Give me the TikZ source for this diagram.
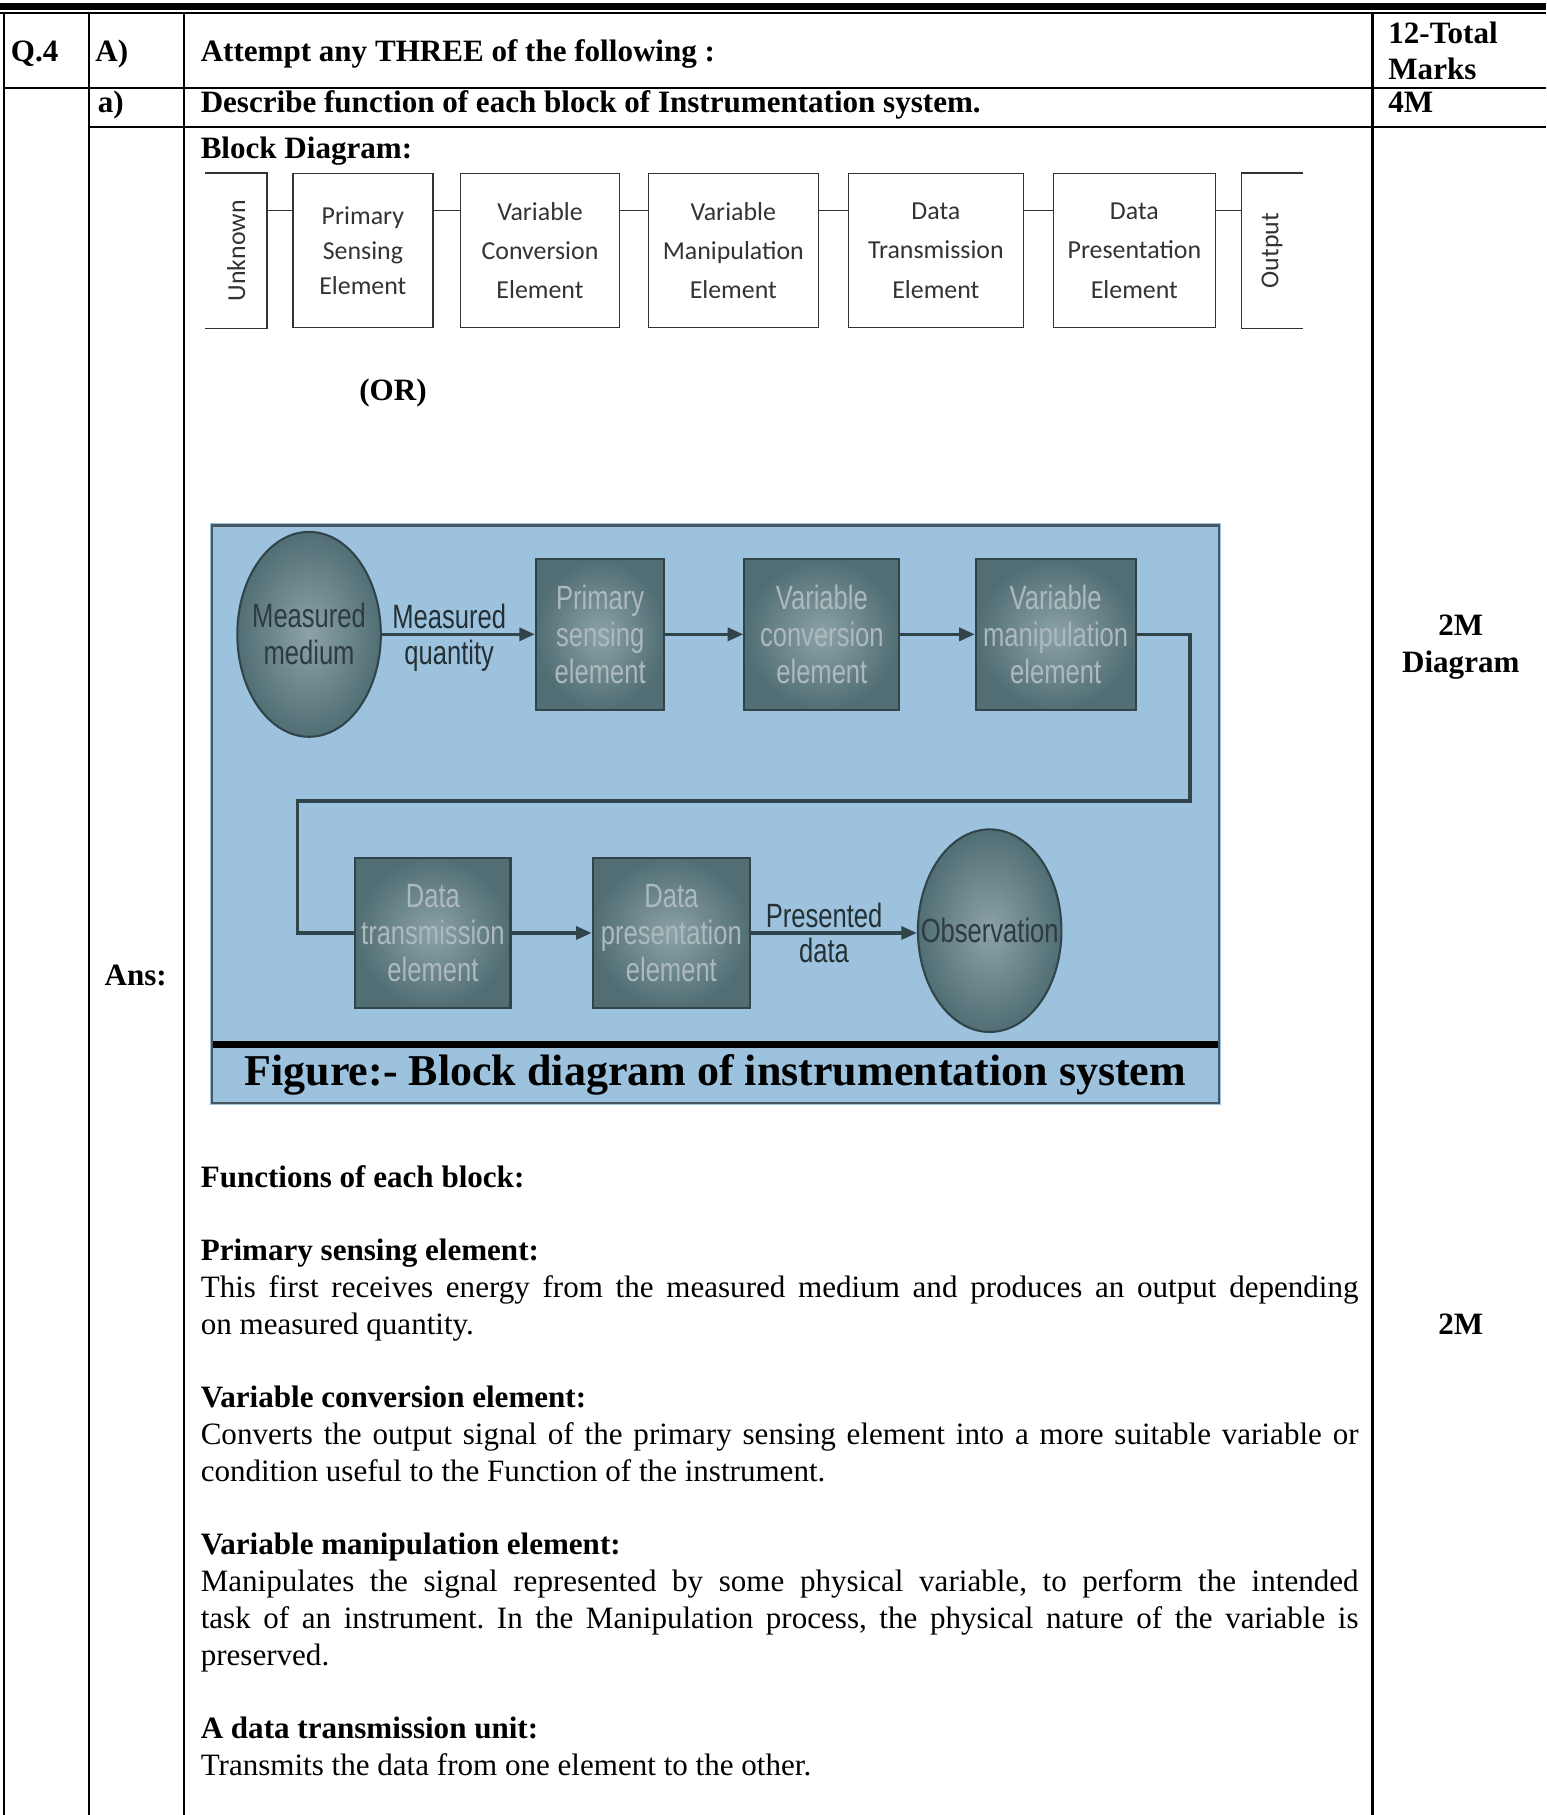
\documentclass[tikz,border=0pt]{standalone}
\usepackage{fontspec}
\setmainfont{Liberation Serif}
\newfontfamily\blockfont{Carlito}
\newfontfamily\figfont{Liberation Sans}[FakeStretch=0.76]
\usetikzlibrary{arrows.meta,positioning,shapes.geometric}

\definecolor{figbg}{RGB}{156,194,222}
\definecolor{figframe}{RGB}{72,88,98}
\definecolor{blockfill}{RGB}{80,110,116}
\definecolor{blockglow}{RGB}{140,163,168}
\definecolor{flowline}{RGB}{48,68,74}
\definecolor{figink}{RGB}{36,48,52}
\definecolor{blockink}{RGB}{172,186,189}
\definecolor{ovalink}{RGB}{44,60,64}

\newcommand{\upx}{0.015719cm}
\newcommand{\bodysize}{\fontsize{12}{14.3}\selectfont}
\newcommand{\figsize}{\figfont\fontsize{13}{14.2}\selectfont}

\begin{document}
\frenchspacing
\begin{tikzpicture}[x=\upx, y=-\upx,
  rule/.style={line width=0.8pt},
  head/.style={anchor=base west, inner sep=0pt, font=\bodysize\bfseries},
  marks/.style={anchor=base, inner sep=0pt, font=\bodysize\bfseries},
  body/.style={anchor=base west, inner sep=0pt, text width=15.72cm, align=justify, font=\bodysize},
  blk/.style={draw=black!80, line width=0.5pt, minimum height=133*\upx, inner sep=0pt,
    align=center, text=black!80, font=\blockfont\fontsize{10}{15.2}\selectfont},
  side/.style={rotate=90, inner sep=0pt, text=black!80, font=\blockfont\fontsize{10}{12}\selectfont},
  wire/.style={draw=black!80, line width=0.5pt},
  figbox/.style={rectangle, draw=flowline, line width=0.8pt, minimum height=130*\upx, inner sep=0pt,
    align=center, inner color=blockglow, outer color=blockfill, text=blockink, font=\figsize},
  medium/.style={ellipse, draw=flowline, line width=0.8pt, minimum width=124*\upx,
    minimum height=177*\upx, inner sep=0pt, inner color=blockglow, outer color=blockfill},
  inlabel/.style={inner sep=0pt, align=center, text=ovalink, font=\figsize},
  flow/.style={draw=flowline, line width=1.3pt},
  arr/.style={flow, -{Triangle[length=6pt,width=5pt]}},
  flowlabel/.style={inner sep=1.5pt, pos=0.44, text=figink, font=\figsize}
]
\useasboundingbox (0,0) rectangle (1336,1568);

% table rules
\fill (0,2.9) rectangle (1336,8.6);
\draw[line width=0.6pt] (0,11.2) -- (1336,11.2);
\foreach \cx in {3.5,76.9,158.9,1185.7}
  \draw[rule] (\cx,11.2) -- (\cx,1568);
\draw[rule] (3.5,76) -- (1336,76);
\draw[rule] (76.9,109.7) -- (1336,109.7);

% header rows
\node[head] (qno) at (9,53) {Q.4};
\node[head] (part) at (82,53) {A)};
\node[head] (task) at (173,53) {Attempt any THREE of the following :};
\node[head] (total) at (1199,38) {12-Total};
\node[head] (totalb) at (1199,69) {Marks};
\node[head] (sub) at (84,97) {a)};
\node[head] (question) at (173,97) {Describe function of each block of Instrumentation system.};
\node[head] (four) at (1199,97) {4M};
\node[head] (ans) at (90,851) {Ans:};

\node[head] (blockhead) at (173,137) {Block Diagram:};

% first block diagram
\node[blk, draw=none, minimum width=52*\upx] (unk) at (204,216.5) {};
\node[side] (unklabel) at (unk.center) {Unknown};
\draw[wire] (unk.north west) -- (unk.north east) -- (unk.south east) -- (unk.south west);
\node[blk, minimum width=121*\upx, font=\blockfont\fontsize{10}{13.5}\selectfont] (pse) at (313.5,216.5) {Primary\\Sensing\\Element};
\node[blk, minimum width=137*\upx] (vce) at (466.5,216.5) {Variable\\Conversion\\Element};
\node[blk, minimum width=147*\upx] (vme) at (633.5,216.5) {Variable\\Manipulation\\Element};
\node[blk, minimum width=151*\upx] (dte) at (808.5,216.5) {Data\\Transmission\\Element};
\node[blk, minimum width=140*\upx] (dpe) at (980,216.5) {Data\\Presentation\\Element};
\node[blk, draw=none, minimum width=52*\upx] (outp) at (1099,216.5) {};
\node[side] (outlabel) at (outp.center) {Output};
\draw[wire] (outp.north east) -- (outp.north west) -- (outp.south west) -- (outp.south east);
\coordinate (tap) at (0,182);
\foreach \a/\b in {unk/pse,pse/vce,vce/vme,vme/dte,dte/dpe,dpe/outp}
  \draw[wire] (\a.east |- tap) -- (\b.west |- tap);

\node[head] (orword) at (310,346) {(OR)};

% second block diagram
\fill[figbg] (181,452) rectangle (1055,955);
\draw[figframe, line width=1pt] (183,454) rectangle (1053,953);
\fill[black] (184,899) rectangle (1052,905);

\node[medium, label={[inlabel]center:Measured\\medium}] (med) at (267,548) {};
\node[figbox, minimum width=111*\upx] (pse2) at (518.5,548) {Primary\\sensing\\element};
\node[figbox, minimum width=134*\upx] (vce2) at (710,548) {Variable\\conversion\\element};
\node[figbox, minimum width=138*\upx] (vme2) at (912,548) {Variable\\manipulation\\element};
\node[figbox, minimum width=134*\upx] (dte2) at (374,806) {Data\\transmission\\element};
\node[figbox, minimum width=136*\upx] (dpe2) at (580,806) {Data\\presentation\\element};
\node[medium, minimum height=175*\upx, label={[inlabel]center:Observation}] (obs) at (855,804) {};

\draw[arr] (med) -- node[flowlabel, above] (mq1) {Measured} node[flowlabel, below] (mq2) {quantity} (pse2);
\draw[arr] (pse2) -- (vce2);
\draw[arr] (vce2) -- (vme2);
\coordinate (bendr) at (1028,692);
\coordinate (bendl) at (257,692);
\draw[flow] (vme2.east) -| (bendr) -- (bendl) |- (dte2.west);
\draw[arr] (dte2) -- (dpe2);
\draw[arr] (dpe2.east) -- node[flowlabel, above] (pd1) {Presented} node[flowlabel, below] (pd2) {data} (obs.west |- dpe2.east);

\node[font=\fontsize{17}{20}\selectfont\bfseries] (caption) at (618,929) {Figure:- Block diagram of instrumentation system};

% right column marks
\node[marks] (dm1) at (1262,549) {2M};
\node[marks] (dm2) at (1262,581) {Diagram};
\node[marks] (fm) at (1262,1153) {2M};

% functions text
\node[head] (fnhead) at (173,1026) {Functions of each block:};
\node[head] (h1) at (173,1089) {Primary sensing element:};
\node[body] (p1) at (173,1121) {This first receives energy from the measured medium and produces an output depending\linebreak on measured quantity.};
\node[head] (h2) at (173,1216) {Variable conversion element:};
\node[body] (p2) at (173,1248) {Converts the output signal of the primary sensing element into a more suitable variable or\linebreak condition useful to the Function of the instrument.};
\node[head] (h3) at (173,1343) {Variable manipulation element:};
\node[body] (p3) at (173,1375) {Manipulates the signal represented by some physical variable, to perform the intended\linebreak task of an instrument. In the Manipulation process, the physical nature of the variable is\linebreak preserved.};
\node[head] (h4) at (173,1502) {A data transmission unit:};
\node[body] (p4) at (173,1534) {Transmits the data from one element to the other.};
\end{tikzpicture}
\end{document}
